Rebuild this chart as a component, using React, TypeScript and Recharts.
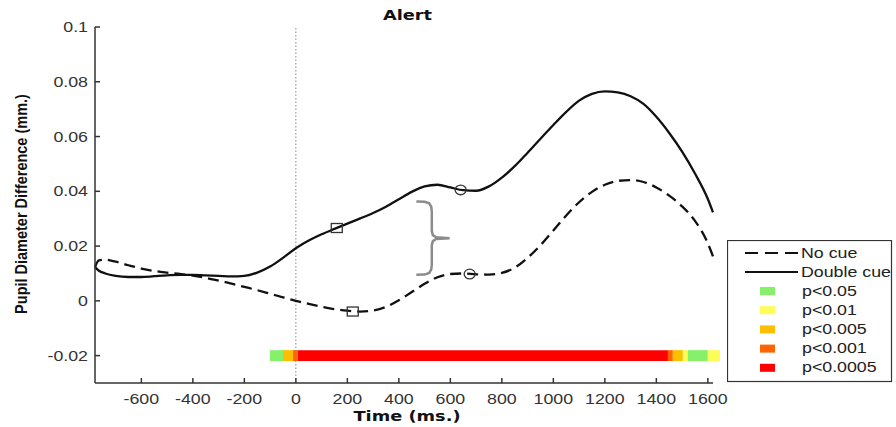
import React from 'react';
import {
  ComposedChart,
  Line,
  XAxis,
  YAxis,
  ReferenceLine,
  ReferenceArea,
  Scatter,
  Legend,
} from 'recharts';

// ---- data ----
const times = [
  -780, -765, -740, -700, -650, -600, -550, -500, -450, -400, -350, -300, -250, -200, -150, -100, -50,
  0, 50, 100, 150, 200, 250, 300, 350, 400, 450, 500, 550, 600, 650, 700, 750, 800, 850, 900, 950,
  1000, 1050, 1100, 1150, 1200, 1250, 1300, 1350, 1400, 1450, 1500, 1550, 1600, 1620,
];
const noCue = [
  0.0123, 0.0148, 0.0150, 0.0143, 0.0130, 0.0118, 0.0109, 0.0103, 0.0098, 0.0092, 0.0084, 0.0074,
  0.0063, 0.0051, 0.0039, 0.0026, 0.0013, 0.0, -0.0011, -0.0021, -0.0030, -0.0036, -0.0039, -0.0035,
  -0.0022, 0.0002, 0.0032, 0.0062, 0.0086, 0.0098, 0.0100, 0.0097, 0.0096, 0.0102, 0.0121, 0.0157,
  0.0203, 0.0257, 0.0312, 0.0360, 0.0398, 0.0424, 0.0438, 0.0441, 0.0434, 0.0414, 0.0384, 0.0345,
  0.0292, 0.0210, 0.0162,
];
const doubleCue = [
  0.0123, 0.0110, 0.0100, 0.0091, 0.0087, 0.0087, 0.0090, 0.0093, 0.0095, 0.0095, 0.0093, 0.0091,
  0.0089, 0.0091, 0.0103, 0.0125, 0.0157, 0.0192, 0.0220, 0.0243, 0.0263, 0.0282, 0.0301, 0.0321,
  0.0344, 0.0371, 0.0398, 0.0418, 0.0424, 0.0414, 0.0404, 0.0402, 0.0418, 0.0450, 0.0492, 0.0541,
  0.0592, 0.0642, 0.0690, 0.0731, 0.0756, 0.0765, 0.0761, 0.0747, 0.0719, 0.0672, 0.0613, 0.0545,
  0.0465, 0.0372, 0.0323,
];

const squareT = [159, 221];
const squareV = [0.0266, -0.0039];
const circleT = [640, 675];
const circleV = [0.0405, 0.0098];

const braceT = [468, 500, 518, 526, 528, 528, 532, 545, 597, 545, 532, 528, 528, 526, 518, 500, 468];
const braceV = [
  0.0363, 0.0362, 0.0356, 0.0343, 0.0325, 0.0255, 0.024, 0.0232, 0.0229, 0.0226, 0.0218, 0.0203,
  0.0133, 0.0115, 0.0102, 0.0096, 0.0095,
];

const xTicks = [-600, -400, -200, 0, 200, 400, 600, 800, 1000, 1200, 1400, 1600];
const yTicks = [-0.02, 0, 0.02, 0.04, 0.06, 0.08, 0.1];
const yTickLabels = ['-0.02', '0', '0.02', '0.04', '0.06', '0.08', '0.1'];

const sigLabels = ['p<0.05', 'p<0.01', 'p<0.005', 'p<0.001', 'p<0.0005'];
const sigColors = ['#86f06b', '#fdfd5a', '#fbbf00', '#ff6400', '#ff0000'];
const sigStart = [-101, -50, -11, 8, 1445, 1464, 1503, 1522, 1600];
const sigEnd = [-50, -11, 8, 1445, 1464, 1503, 1522, 1600, 1647];
const sigLevel = [0, 2, 3, 4, 3, 2, 1, 0, 1];
const sigLow = -0.022;
const sigHigh = -0.018;

const seriesNames = ['No cue', 'Double cue'];

// ---- derived tables ----
const rows = times.map((t, i) => ({ t, noCue: noCue[i], doubleCue: doubleCue[i] }));
const squares = squareT.map((t, i) => ({ t, v: squareV[i] }));
const circles = circleT.map((t, i) => ({ t, v: circleV[i] }));
const brace = braceT.map((t, i) => ({ t, v: braceV[i] }));

const SX = 1.27;
const TICK_FONT = "'Liberation Sans', Arial, sans-serif";
const BOLD_FONT = "'DejaVu Sans', Verdana, sans-serif";

const XTick = (props: any) => {
  const { x, y, payload } = props;
  return (
    <g>
      <line x1={x} x2={x} y1={y} y2={y - 5} stroke="#333" strokeWidth={1.5} />
      <text
        transform={`translate(${x},${y + 21}) scale(${SX},1)`}
        textAnchor="middle"
        fontFamily={TICK_FONT}
        fontSize={14}
        fill="#333"
      >
        {payload.value}
      </text>
    </g>
  );
};

const YTick = (props: any) => {
  const { x, y, payload } = props;
  const idx = yTicks.indexOf(payload.value);
  const label = idx >= 0 ? yTickLabels[idx] : String(payload.value);
  return (
    <g>
      <line x1={x} x2={x + 5} y1={y} y2={y} stroke="#333" strokeWidth={1.5} />
      <text
        transform={`translate(${x - 7},${y + 5}) scale(${SX},1)`}
        textAnchor="end"
        fontFamily={TICK_FONT}
        fontSize={14}
        fill="#333"
      >
        {label}
      </text>
    </g>
  );
};

const SquareShape = (props: any) => {
  const { cx, cy } = props;
  return <rect x={cx - 5.5} y={cy - 4.5} width={11} height={9} fill="none" stroke="#333" strokeWidth={1.3} />;
};
const CircleShape = (props: any) => {
  const { cx, cy } = props;
  return <ellipse cx={cx} cy={cy} rx={5.5} ry={4.8} fill="none" stroke="#333" strokeWidth={1.3} />;
};

const LegendBox = () => {
  const textProps = {
    fontFamily: TICK_FONT,
    fontSize: 14,
    fill: '#222',
  };
  return (
    <svg width={166} height={143} style={{ display: 'block' }}>
      <rect x={0.5} y={0.5} width={164} height={141} fill="#fff" stroke="#333" strokeWidth={1.2} />
      <line x1={18} x2={71} y1={13} y2={13} stroke="#111" strokeWidth={2} strokeDasharray="13 7" />
      <text transform={`translate(74,18) scale(${SX},1)`} {...textProps}>
        {seriesNames[0]}
      </text>
      <line x1={18} x2={71} y1={32} y2={32} stroke="#111" strokeWidth={2} />
      <text transform={`translate(74,37) scale(${SX},1)`} {...textProps}>
        {seriesNames[1]}
      </text>
      {sigLabels.map((lab, i) => {
        const cy = 51 + i * 19.2;
        return (
          <g key={lab}>
            <rect x={33} y={cy - 4} width={15} height={8} fill={sigColors[i]} />
            <text transform={`translate(75,${cy + 4.5}) scale(${SX},1)`} {...textProps}>
              {lab}
            </text>
          </g>
        );
      })}
    </svg>
  );
};

export default function App() {
  return (
    <div style={{ position: 'absolute', left: 0, top: 0, width: 896, height: 427, background: '#fff' }}>
      <svg style={{ position: 'absolute', left: 0, top: 0 }} width={896} height={30}>
        <text
          transform={`translate(407.5,20) scale(${SX},1)`}
          textAnchor="middle"
          fontFamily={BOLD_FONT}
          fontWeight="bold"
          fontSize={14}
          fill="#111"
        >
          Alert
        </text>
      </svg>
      <ComposedChart
        width={896}
        height={427}
        data={rows}
        margin={{ top: 27, right: 183, left: 0, bottom: 0 }}
        style={{ position: 'absolute', left: 0, top: 0 }}
      >
        <XAxis
          dataKey="t"
          type="number"
          domain={[-780, 1620]}
          ticks={xTicks}
          height={44}
          tickSize={0}
          tickMargin={0}
          tickLine={false}
          tick={<XTick />}
          axisLine={{ stroke: '#333', strokeWidth: 1.5 }}
          interval={0}
          label={{
            content: () => (
              <text
                transform={`translate(407,421) scale(${SX},1)`}
                textAnchor="middle"
                fontFamily={BOLD_FONT}
                fontWeight="bold"
                fontSize={14}
                fill="#111"
              >
                Time (ms.)
              </text>
            ),
          }}
        />
        <YAxis
          type="number"
          domain={[-0.03, 0.1]}
          ticks={yTicks}
          width={95}
          tickSize={0}
          tickMargin={0}
          tickLine={false}
          tick={<YTick />}
          axisLine={{ stroke: '#333', strokeWidth: 1.5 }}
          interval={0}
          label={{
            content: () => (
              <text
                transform="translate(27,204) rotate(-90) scale(1,1.15)"
                textAnchor="middle"
                fontFamily={TICK_FONT}
                fontWeight="bold"
                fontSize={14.5}
                fill="#111"
              >
                Pupil Diameter Difference (mm.)
              </text>
            ),
          }}
        />
        <ReferenceLine x={0} stroke="#7a8a9a" strokeDasharray="1.5 2" strokeWidth={1} ifOverflow="visible" />
        {sigStart.map((s, i) => (
          <ReferenceArea
            key={`sig-${i}`}
            x1={s}
            x2={sigEnd[i]}
            y1={sigLow}
            y2={sigHigh}
            fill={sigColors[sigLevel[i]]}
            fillOpacity={1}
            stroke="none"
            ifOverflow="visible"
          />
        ))}
        <Line
          type="monotone"
          dataKey="doubleCue"
          stroke="#111"
          strokeWidth={2.3}
          dot={false}
          isAnimationActive={false}
        />
        <Line
          type="monotone"
          dataKey="noCue"
          stroke="#111"
          strokeWidth={2.3}
          strokeDasharray="11 6"
          dot={false}
          isAnimationActive={false}
        />
        <Line
          data={brace}
          type="linear"
          dataKey="v"
          stroke="#8c8c8c"
          strokeWidth={2.5}
          dot={false}
          isAnimationActive={false}
        />
        <Scatter data={squares} dataKey="v" shape={SquareShape} isAnimationActive={false} />
        <Scatter data={circles} dataKey="v" shape={CircleShape} isAnimationActive={false} />
        <Legend
          layout="vertical"
          align="center"
          verticalAlign="middle"
          content={() => <LegendBox />}
          wrapperStyle={{ left: 727, top: 240, width: 166, height: 143 }}
        />
      </ComposedChart>
    </div>
  );
}
